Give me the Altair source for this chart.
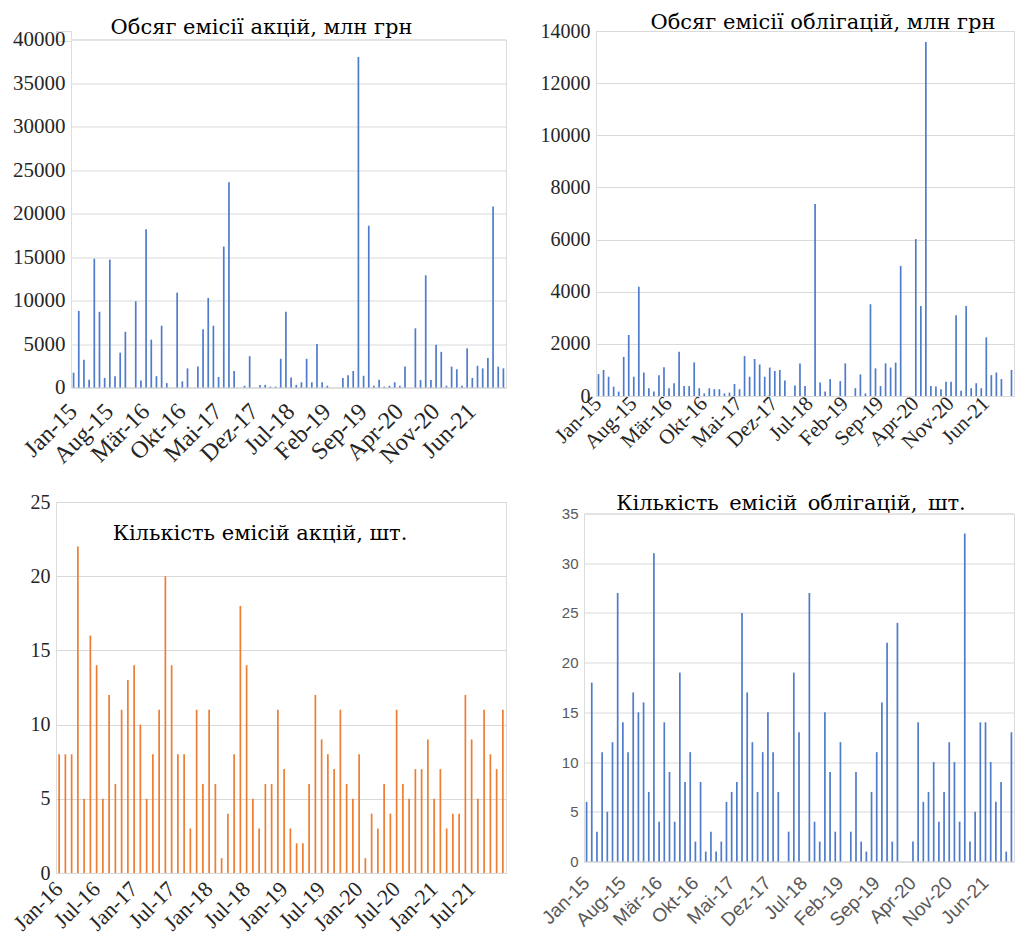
import altair as alt
import pandas as pd

MONTHS_DE = ["Jan", "Feb", "Mär", "Apr", "Mai", "Jun", "Jul", "Aug", "Sep", "Okt", "Nov", "Dez"]


def month_labels(start_year, n):
    return [f"{MONTHS_DE[i % 12]}-{(start_year + i // 12) % 100:02d}" for i in range(n)]


# Обсяг емісії акцій, млн грн (Jan-15 .. Dec-21)
shares_volume = [
    1700, 8800, 3200, 900, 14800, 8700, 1100, 14700, 1300, 4000,
    6400, 0, 9900, 800, 18200, 5500, 1300, 7100, 500, 0,
    10900, 700, 2200, 0, 2400, 6700, 10300, 7100, 1200, 16200,
    23600, 1900, 0, 200, 3600, 0, 300, 300, 100, 100,
    3300, 8700, 1150, 300, 600, 3300, 600, 5000, 600, 200,
    0, 0, 1100, 1400, 1900, 38000, 1350, 18600, 200, 900,
    100, 200, 600, 200, 2400, 0, 6800, 850, 12900, 850,
    4900, 4100, 200, 2400, 2100, 200, 4500, 1100, 2500, 2200,
    3400, 20800, 2400, 2200,
]

# Обсяг емісії облігацій, млн грн (Jan-15 .. Nov-21, visible part)
bonds_volume = [
    840, 1000, 740, 360, 170, 1500, 2340, 740, 4190, 900,
    300, 170, 800, 1100, 300, 490, 1700, 380, 380, 1290,
    300, 100, 300, 260, 260, 100, 130, 460, 260, 1530,
    740, 1420, 1210, 740, 1090, 960, 1000, 590, 0, 400,
    1250, 380, 0, 7360, 520, 170, 650, 0, 570, 1250,
    0, 300, 830, 100, 3520, 1060, 380, 1250, 1090, 1280,
    4990, 0, 0, 6020, 3450, 13580, 380, 360, 260, 550,
    550, 3100, 200, 3450, 300, 490, 300, 2250, 800, 900,
    650, 0, 1000,
]

# Кількість емісій акцій, шт. (Jan-16 .. Dec-21)
shares_count = [
    8, 8, 8, 22, 5, 16, 14, 5, 12, 6,
    11, 13, 14, 10, 5, 8, 11, 20, 14, 8,
    8, 3, 11, 6, 11, 6, 1, 4, 8, 18,
    14, 5, 3, 6, 6, 11, 7, 3, 2, 2,
    6, 12, 9, 8, 7, 11, 6, 5, 8, 1,
    4, 3, 6, 4, 11, 6, 5, 7, 7, 9,
    5, 7, 3, 4, 4, 12, 9, 5, 11, 8,
    7, 11,
]

# Кількість емісій облігацій, шт. (Jan-15 .. Nov-21, visible part)
bonds_count = [
    6, 18, 3, 11, 5, 12, 27, 14, 11, 17,
    15, 16, 7, 31, 4, 14, 9, 4, 19, 8,
    11, 2, 8, 1, 3, 1, 2, 6, 7, 8,
    25, 17, 12, 7, 11, 15, 11, 7, 0, 3,
    19, 13, 0, 27, 4, 2, 15, 9, 3, 12,
    0, 3, 9, 2, 1, 7, 11, 16, 22, 2,
    24, 0, 0, 2, 14, 6, 7, 10, 4, 7,
    12, 10, 4, 33, 2, 5, 14, 14, 10, 6,
    8, 1, 13,
]

months_15 = month_labels(2015, 84)
months_16 = month_labels(2016, 72)

BLUE = "#4f7bcb"
ORANGE = "#ED7D31"
GRID = "#d9d9d9"
SERIF = "Liberation Serif, Times New Roman, Times, serif"
SANS = "Liberation Sans, Arial, sans-serif"


def panel(values, months, every, title, color, ymax, ystep, w, h, y_ext,
          tdx, toffset, lab_font=SERIF, lab_size=22, lab_color="#262626", lab_pad=10,
          ylab_size=20, ylab_font=SERIF, ylab_color="#262626",
          title_size=21):
    m = months[:len(values)]
    df = pd.DataFrame({"m": m, "v": values})
    x = alt.X(
        "m:N", sort=m,
        scale=alt.Scale(paddingInner=0, paddingOuter=0),
        axis=alt.Axis(
            values=m[::every], labelAngle=-45, labelAlign="right", labelBaseline="middle",
            ticks=False, domainColor=GRID, title=None, labelFont=lab_font,
            labelFontSize=lab_size, labelColor=lab_color, labelPadding=lab_pad,
            labelOverlap=False, grid=False,
        ),
    )
    y = alt.Y(
        "v:Q",
        scale=alt.Scale(domain=[0, ymax], nice=False),
        axis=alt.Axis(
            values=list(range(0, ymax + 1, ystep)), format="d", grid=True, gridColor=GRID,
            domain=False, ticks=False, title=None, labelFont=ylab_font,
            labelFontSize=ylab_size, labelColor=ylab_color, labelPadding=6,
            minExtent=y_ext, maxExtent=y_ext,
        ),
    )
    return alt.Chart(
        df,
        title=alt.TitleParams(
            title, font="DejaVu Serif", fontSize=title_size, fontWeight="normal",
            color="#000000", anchor="middle", frame="group", dx=tdx, offset=toffset,
        ),
    ).mark_bar(size=1.7, color=color).encode(x=x, y=y).properties(width=w, height=h)


tl = panel(shares_volume, months_15, 7, "Обсяг емісії акцій, млн грн", BLUE,
           40000, 5000, 435, 348, 62, -27, -9, lab_size=24, lab_pad=20, ylab_size=21)
tr = panel(bonds_volume, months_15, 7, "Обсяг емісії облігацій, млн грн", BLUE,
           14000, 2000, 418, 365, 55, 18, -12, lab_size=21, lab_pad=4)
bl = panel(shares_count, months_16, 6, "Кількість емісій акцій, шт.", ORANGE,
           25, 5, 450, 371, 47, -21, -52, lab_size=22, lab_pad=12)
br = panel(bonds_count, months_15, 7, "Кількість\u2002емісій\u2002облігацій,\u2002шт.", BLUE,
           35, 5, 430, 348, 30, -8, -7,
           lab_font=SANS, lab_size=19, lab_color="#595959", lab_pad=18,
           ylab_font=SANS, ylab_size=15, ylab_color="#595959")

# invisible spacer shifting the top-left panel 15px to the right of the bottom-left one
spacer = alt.Chart(pd.DataFrame({"a": [0]})).mark_point(opacity=0).encode(
    x=alt.value(0), y=alt.value(0)
).properties(width=15, height=10)

row1_inner = alt.hconcat(tl, tr, spacing=90, bounds="flush", center=True)
row1 = alt.hconcat(spacer, row1_inner, spacing=0, bounds="flush")
row2 = alt.hconcat(bl, br, spacing=78, bounds="flush", center=True)

chart = alt.vconcat(row1, row2, spacing=22).properties(
    padding={"left": 0, "top": 3, "right": 0, "bottom": 0}
).configure_view(stroke=None).configure(background="white")

chart.save("out.html", embed_options={"renderer": "svg", "actions": False})
